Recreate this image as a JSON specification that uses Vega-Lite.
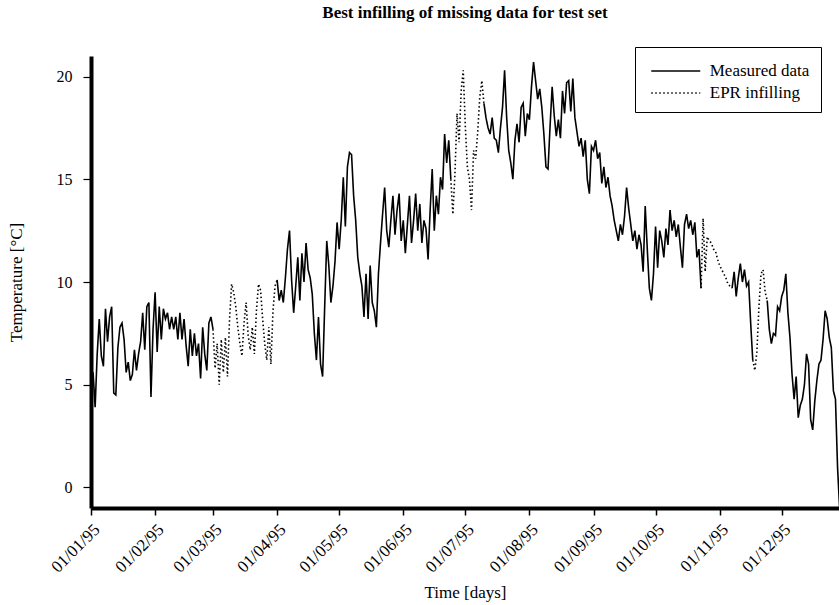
{
"$schema": "https://vega.github.io/schema/vega-lite/v6.json",
"width": 748, "height": 452,
"autosize": "none",
"padding": {"left": 91, "top": 56, "right": 0, "bottom": 97},
"background": "white",
"config": {"view": {"stroke": null}, "font": "Liberation Serif"},
"title": {"text": "Best infilling of missing data for test set", "fontSize": 17, "fontWeight": "bold", "font": "Liberation Serif", "anchor": "middle", "offset": 25, "color": "black"},
"data": {"values": [
{"d":"1995-01-01","t":5.2,"s":"Measured data","g":"a"},{"d":"1995-01-02","t":5.6,"s":"Measured data","g":"a"},{"d":"1995-01-03","t":3.9,"s":"Measured data","g":"a"},{"d":"1995-01-04","t":6.5,"s":"Measured data","g":"a"},{"d":"1995-01-05","t":8.2,"s":"Measured data","g":"a"},{"d":"1995-01-06","t":6.4,"s":"Measured data","g":"a"},{"d":"1995-01-07","t":5.9,"s":"Measured data","g":"a"},{"d":"1995-01-08","t":8.7,"s":"Measured data","g":"a"},{"d":"1995-01-09","t":7.1,"s":"Measured data","g":"a"},{"d":"1995-01-10","t":8.3,"s":"Measured data","g":"a"},
{"d":"1995-01-11","t":8.8,"s":"Measured data","g":"a"},{"d":"1995-01-12","t":4.6,"s":"Measured data","g":"a"},{"d":"1995-01-13","t":4.5,"s":"Measured data","g":"a"},{"d":"1995-01-14","t":6.8,"s":"Measured data","g":"a"},{"d":"1995-01-15","t":7.8,"s":"Measured data","g":"a"},{"d":"1995-01-16","t":8.0,"s":"Measured data","g":"a"},{"d":"1995-01-17","t":7.2,"s":"Measured data","g":"a"},{"d":"1995-01-18","t":5.6,"s":"Measured data","g":"a"},{"d":"1995-01-19","t":6.1,"s":"Measured data","g":"a"},{"d":"1995-01-20","t":5.2,"s":"Measured data","g":"a"},
{"d":"1995-01-21","t":5.5,"s":"Measured data","g":"a"},{"d":"1995-01-22","t":6.7,"s":"Measured data","g":"a"},{"d":"1995-01-23","t":5.7,"s":"Measured data","g":"a"},{"d":"1995-01-24","t":6.5,"s":"Measured data","g":"a"},{"d":"1995-01-25","t":7.1,"s":"Measured data","g":"a"},{"d":"1995-01-26","t":8.5,"s":"Measured data","g":"a"},{"d":"1995-01-27","t":6.7,"s":"Measured data","g":"a"},{"d":"1995-01-28","t":8.8,"s":"Measured data","g":"a"},{"d":"1995-01-29","t":9.0,"s":"Measured data","g":"a"},{"d":"1995-01-30","t":4.4,"s":"Measured data","g":"a"},{"d":"1995-01-31","t":7.7,"s":"Measured data","g":"a"},
{"d":"1995-02-01","t":9.5,"s":"Measured data","g":"a"},{"d":"1995-02-02","t":6.6,"s":"Measured data","g":"a"},{"d":"1995-02-03","t":8.8,"s":"Measured data","g":"a"},{"d":"1995-02-04","t":7.2,"s":"Measured data","g":"a"},{"d":"1995-02-05","t":8.7,"s":"Measured data","g":"a"},{"d":"1995-02-06","t":8.2,"s":"Measured data","g":"a"},{"d":"1995-02-07","t":8.5,"s":"Measured data","g":"a"},{"d":"1995-02-08","t":7.7,"s":"Measured data","g":"a"},{"d":"1995-02-09","t":8.3,"s":"Measured data","g":"a"},{"d":"1995-02-10","t":7.7,"s":"Measured data","g":"a"},
{"d":"1995-02-11","t":8.3,"s":"Measured data","g":"a"},{"d":"1995-02-12","t":7.2,"s":"Measured data","g":"a"},{"d":"1995-02-13","t":8.5,"s":"Measured data","g":"a"},{"d":"1995-02-14","t":7.2,"s":"Measured data","g":"a"},{"d":"1995-02-15","t":8.2,"s":"Measured data","g":"a"},{"d":"1995-02-16","t":6.9,"s":"Measured data","g":"a"},{"d":"1995-02-17","t":5.9,"s":"Measured data","g":"a"},{"d":"1995-02-18","t":7.7,"s":"Measured data","g":"a"},{"d":"1995-02-19","t":6.4,"s":"Measured data","g":"a"},{"d":"1995-02-20","t":7.5,"s":"Measured data","g":"a"},
{"d":"1995-02-21","t":6.4,"s":"Measured data","g":"a"},{"d":"1995-02-22","t":7.0,"s":"Measured data","g":"a"},{"d":"1995-02-23","t":5.3,"s":"Measured data","g":"a"},{"d":"1995-02-24","t":7.8,"s":"Measured data","g":"a"},{"d":"1995-02-25","t":6.5,"s":"Measured data","g":"a"},{"d":"1995-02-26","t":5.7,"s":"Measured data","g":"a"},{"d":"1995-02-27","t":8.0,"s":"Measured data","g":"a"},{"d":"1995-02-28","t":8.3,"s":"Measured data","g":"a"},{"d":"1995-03-01","t":7.7,"s":"Measured data","g":"a"},
{"d":"1995-03-01","t":7.7,"s":"EPR infilling","g":"b"},{"d":"1995-03-02","t":5.8,"s":"EPR infilling","g":"b"},{"d":"1995-03-03","t":7.0,"s":"EPR infilling","g":"b"},{"d":"1995-03-04","t":5.0,"s":"EPR infilling","g":"b"},{"d":"1995-03-05","t":7.2,"s":"EPR infilling","g":"b"},{"d":"1995-03-06","t":5.6,"s":"EPR infilling","g":"b"},{"d":"1995-03-07","t":7.3,"s":"EPR infilling","g":"b"},{"d":"1995-03-08","t":5.4,"s":"EPR infilling","g":"b"},{"d":"1995-03-09","t":8.2,"s":"EPR infilling","g":"b"},{"d":"1995-03-10","t":9.9,"s":"EPR infilling","g":"b"},
{"d":"1995-03-11","t":9.5,"s":"EPR infilling","g":"b"},{"d":"1995-03-12","t":8.8,"s":"EPR infilling","g":"b"},{"d":"1995-03-13","t":7.8,"s":"EPR infilling","g":"b"},{"d":"1995-03-14","t":7.0,"s":"EPR infilling","g":"b"},{"d":"1995-03-15","t":6.4,"s":"EPR infilling","g":"b"},{"d":"1995-03-16","t":8.0,"s":"EPR infilling","g":"b"},{"d":"1995-03-17","t":9.0,"s":"EPR infilling","g":"b"},{"d":"1995-03-18","t":7.4,"s":"EPR infilling","g":"b"},{"d":"1995-03-19","t":6.7,"s":"EPR infilling","g":"b"},{"d":"1995-03-20","t":7.8,"s":"EPR infilling","g":"b"},
{"d":"1995-03-21","t":6.5,"s":"EPR infilling","g":"b"},{"d":"1995-03-22","t":8.6,"s":"EPR infilling","g":"b"},{"d":"1995-03-23","t":9.9,"s":"EPR infilling","g":"b"},{"d":"1995-03-24","t":9.6,"s":"EPR infilling","g":"b"},{"d":"1995-03-25","t":8.2,"s":"EPR infilling","g":"b"},{"d":"1995-03-26","t":7.0,"s":"EPR infilling","g":"b"},{"d":"1995-03-27","t":6.2,"s":"EPR infilling","g":"b"},{"d":"1995-03-28","t":7.8,"s":"EPR infilling","g":"b"},{"d":"1995-03-29","t":6.0,"s":"EPR infilling","g":"b"},{"d":"1995-03-30","t":8.6,"s":"EPR infilling","g":"b"},{"d":"1995-03-31","t":9.8,"s":"EPR infilling","g":"b"},{"d":"1995-04-01","t":10.1,"s":"EPR infilling","g":"b"},
{"d":"1995-04-01","t":10.1,"s":"Measured data","g":"c"},{"d":"1995-04-02","t":9.1,"s":"Measured data","g":"c"},{"d":"1995-04-03","t":9.6,"s":"Measured data","g":"c"},{"d":"1995-04-04","t":9.0,"s":"Measured data","g":"c"},{"d":"1995-04-05","t":10.2,"s":"Measured data","g":"c"},{"d":"1995-04-06","t":11.6,"s":"Measured data","g":"c"},{"d":"1995-04-07","t":12.5,"s":"Measured data","g":"c"},{"d":"1995-04-08","t":10.1,"s":"Measured data","g":"c"},{"d":"1995-04-09","t":8.5,"s":"Measured data","g":"c"},{"d":"1995-04-10","t":9.8,"s":"Measured data","g":"c"},
{"d":"1995-04-11","t":11.2,"s":"Measured data","g":"c"},{"d":"1995-04-12","t":9.1,"s":"Measured data","g":"c"},{"d":"1995-04-13","t":11.4,"s":"Measured data","g":"c"},{"d":"1995-04-14","t":10.0,"s":"Measured data","g":"c"},{"d":"1995-04-15","t":11.9,"s":"Measured data","g":"c"},{"d":"1995-04-16","t":10.6,"s":"Measured data","g":"c"},{"d":"1995-04-17","t":10.2,"s":"Measured data","g":"c"},{"d":"1995-04-18","t":9.4,"s":"Measured data","g":"c"},{"d":"1995-04-19","t":7.5,"s":"Measured data","g":"c"},{"d":"1995-04-20","t":6.2,"s":"Measured data","g":"c"},
{"d":"1995-04-21","t":8.3,"s":"Measured data","g":"c"},{"d":"1995-04-22","t":6.0,"s":"Measured data","g":"c"},{"d":"1995-04-23","t":5.4,"s":"Measured data","g":"c"},{"d":"1995-04-24","t":8.8,"s":"Measured data","g":"c"},{"d":"1995-04-25","t":12.0,"s":"Measured data","g":"c"},{"d":"1995-04-26","t":10.8,"s":"Measured data","g":"c"},{"d":"1995-04-27","t":9.0,"s":"Measured data","g":"c"},{"d":"1995-04-28","t":9.8,"s":"Measured data","g":"c"},{"d":"1995-04-29","t":11.0,"s":"Measured data","g":"c"},{"d":"1995-04-30","t":12.9,"s":"Measured data","g":"c"},
{"d":"1995-05-01","t":11.6,"s":"Measured data","g":"c"},{"d":"1995-05-02","t":13.0,"s":"Measured data","g":"c"},{"d":"1995-05-03","t":15.1,"s":"Measured data","g":"c"},{"d":"1995-05-04","t":12.7,"s":"Measured data","g":"c"},{"d":"1995-05-05","t":15.6,"s":"Measured data","g":"c"},{"d":"1995-05-06","t":16.3,"s":"Measured data","g":"c"},{"d":"1995-05-07","t":16.2,"s":"Measured data","g":"c"},{"d":"1995-05-08","t":14.2,"s":"Measured data","g":"c"},{"d":"1995-05-09","t":13.0,"s":"Measured data","g":"c"},{"d":"1995-05-10","t":11.2,"s":"Measured data","g":"c"},
{"d":"1995-05-11","t":10.4,"s":"Measured data","g":"c"},{"d":"1995-05-12","t":9.8,"s":"Measured data","g":"c"},{"d":"1995-05-13","t":8.3,"s":"Measured data","g":"c"},{"d":"1995-05-14","t":10.4,"s":"Measured data","g":"c"},{"d":"1995-05-15","t":8.2,"s":"Measured data","g":"c"},{"d":"1995-05-16","t":10.8,"s":"Measured data","g":"c"},{"d":"1995-05-17","t":9.0,"s":"Measured data","g":"c"},{"d":"1995-05-18","t":8.6,"s":"Measured data","g":"c"},{"d":"1995-05-19","t":7.8,"s":"Measured data","g":"c"},{"d":"1995-05-20","t":10.4,"s":"Measured data","g":"c"},
{"d":"1995-05-21","t":11.9,"s":"Measured data","g":"c"},{"d":"1995-05-22","t":13.3,"s":"Measured data","g":"c"},{"d":"1995-05-23","t":14.6,"s":"Measured data","g":"c"},{"d":"1995-05-24","t":12.5,"s":"Measured data","g":"c"},{"d":"1995-05-25","t":11.7,"s":"Measured data","g":"c"},{"d":"1995-05-26","t":13.0,"s":"Measured data","g":"c"},{"d":"1995-05-27","t":14.2,"s":"Measured data","g":"c"},{"d":"1995-05-28","t":12.3,"s":"Measured data","g":"c"},{"d":"1995-05-29","t":13.5,"s":"Measured data","g":"c"},{"d":"1995-05-30","t":14.3,"s":"Measured data","g":"c"},{"d":"1995-05-31","t":12.0,"s":"Measured data","g":"c"},
{"d":"1995-06-01","t":13.0,"s":"Measured data","g":"c"},{"d":"1995-06-02","t":11.4,"s":"Measured data","g":"c"},{"d":"1995-06-03","t":12.8,"s":"Measured data","g":"c"},{"d":"1995-06-04","t":14.2,"s":"Measured data","g":"c"},{"d":"1995-06-05","t":11.9,"s":"Measured data","g":"c"},{"d":"1995-06-06","t":13.0,"s":"Measured data","g":"c"},{"d":"1995-06-07","t":14.3,"s":"Measured data","g":"c"},{"d":"1995-06-08","t":12.5,"s":"Measured data","g":"c"},{"d":"1995-06-09","t":13.8,"s":"Measured data","g":"c"},{"d":"1995-06-10","t":11.9,"s":"Measured data","g":"c"},
{"d":"1995-06-11","t":13.0,"s":"Measured data","g":"c"},{"d":"1995-06-12","t":12.6,"s":"Measured data","g":"c"},{"d":"1995-06-13","t":11.1,"s":"Measured data","g":"c"},{"d":"1995-06-14","t":13.5,"s":"Measured data","g":"c"},{"d":"1995-06-15","t":15.5,"s":"Measured data","g":"c"},{"d":"1995-06-16","t":12.5,"s":"Measured data","g":"c"},{"d":"1995-06-17","t":14.2,"s":"Measured data","g":"c"},{"d":"1995-06-18","t":13.3,"s":"Measured data","g":"c"},{"d":"1995-06-19","t":15.1,"s":"Measured data","g":"c"},{"d":"1995-06-20","t":14.5,"s":"Measured data","g":"c"},
{"d":"1995-06-21","t":17.2,"s":"Measured data","g":"c"},{"d":"1995-06-22","t":15.8,"s":"Measured data","g":"c"},{"d":"1995-06-23","t":16.9,"s":"Measured data","g":"c"},{"d":"1995-06-24","t":15.0,"s":"Measured data","g":"c"},
{"d":"1995-06-24","t":15.0,"s":"EPR infilling","g":"d"},{"d":"1995-06-25","t":13.3,"s":"EPR infilling","g":"d"},{"d":"1995-06-26","t":15.3,"s":"EPR infilling","g":"d"},{"d":"1995-06-27","t":18.2,"s":"EPR infilling","g":"d"},{"d":"1995-06-28","t":16.8,"s":"EPR infilling","g":"d"},{"d":"1995-06-29","t":19.3,"s":"EPR infilling","g":"d"},{"d":"1995-06-30","t":20.3,"s":"EPR infilling","g":"d"},{"d":"1995-07-01","t":17.6,"s":"EPR infilling","g":"d"},{"d":"1995-07-02","t":15.6,"s":"EPR infilling","g":"d"},{"d":"1995-07-03","t":15.0,"s":"EPR infilling","g":"d"},
{"d":"1995-07-04","t":13.5,"s":"EPR infilling","g":"d"},{"d":"1995-07-05","t":16.4,"s":"EPR infilling","g":"d"},{"d":"1995-07-06","t":16.0,"s":"EPR infilling","g":"d"},{"d":"1995-07-07","t":17.3,"s":"EPR infilling","g":"d"},{"d":"1995-07-08","t":19.0,"s":"EPR infilling","g":"d"},{"d":"1995-07-09","t":19.8,"s":"EPR infilling","g":"d"},{"d":"1995-07-10","t":18.7,"s":"EPR infilling","g":"d"},
{"d":"1995-07-10","t":18.7,"s":"Measured data","g":"e"},{"d":"1995-07-11","t":18.0,"s":"Measured data","g":"e"},{"d":"1995-07-12","t":17.5,"s":"Measured data","g":"e"},{"d":"1995-07-13","t":17.2,"s":"Measured data","g":"e"},{"d":"1995-07-14","t":18.0,"s":"Measured data","g":"e"},{"d":"1995-07-15","t":17.0,"s":"Measured data","g":"e"},{"d":"1995-07-16","t":16.9,"s":"Measured data","g":"e"},{"d":"1995-07-17","t":16.3,"s":"Measured data","g":"e"},{"d":"1995-07-18","t":17.5,"s":"Measured data","g":"e"},{"d":"1995-07-19","t":18.5,"s":"Measured data","g":"e"},
{"d":"1995-07-20","t":20.3,"s":"Measured data","g":"e"},{"d":"1995-07-21","t":18.0,"s":"Measured data","g":"e"},{"d":"1995-07-22","t":16.4,"s":"Measured data","g":"e"},{"d":"1995-07-23","t":15.8,"s":"Measured data","g":"e"},{"d":"1995-07-24","t":15.0,"s":"Measured data","g":"e"},{"d":"1995-07-25","t":16.9,"s":"Measured data","g":"e"},{"d":"1995-07-26","t":17.7,"s":"Measured data","g":"e"},{"d":"1995-07-27","t":16.8,"s":"Measured data","g":"e"},{"d":"1995-07-28","t":18.5,"s":"Measured data","g":"e"},{"d":"1995-07-29","t":18.7,"s":"Measured data","g":"e"},
{"d":"1995-07-30","t":17.1,"s":"Measured data","g":"e"},{"d":"1995-07-31","t":18.2,"s":"Measured data","g":"e"},
{"d":"1995-08-01","t":17.9,"s":"Measured data","g":"e"},{"d":"1995-08-02","t":19.5,"s":"Measured data","g":"e"},{"d":"1995-08-03","t":20.7,"s":"Measured data","g":"e"},{"d":"1995-08-04","t":19.8,"s":"Measured data","g":"e"},{"d":"1995-08-05","t":18.9,"s":"Measured data","g":"e"},{"d":"1995-08-06","t":19.4,"s":"Measured data","g":"e"},{"d":"1995-08-07","t":18.5,"s":"Measured data","g":"e"},{"d":"1995-08-08","t":17.2,"s":"Measured data","g":"e"},{"d":"1995-08-09","t":15.6,"s":"Measured data","g":"e"},{"d":"1995-08-10","t":15.5,"s":"Measured data","g":"e"},
{"d":"1995-08-11","t":17.6,"s":"Measured data","g":"e"},{"d":"1995-08-12","t":19.5,"s":"Measured data","g":"e"},{"d":"1995-08-13","t":18.1,"s":"Measured data","g":"e"},{"d":"1995-08-14","t":17.1,"s":"Measured data","g":"e"},{"d":"1995-08-15","t":17.9,"s":"Measured data","g":"e"},{"d":"1995-08-16","t":17.0,"s":"Measured data","g":"e"},{"d":"1995-08-17","t":19.3,"s":"Measured data","g":"e"},{"d":"1995-08-18","t":18.2,"s":"Measured data","g":"e"},{"d":"1995-08-19","t":19.7,"s":"Measured data","g":"e"},{"d":"1995-08-20","t":19.8,"s":"Measured data","g":"e"},
{"d":"1995-08-21","t":18.3,"s":"Measured data","g":"e"},{"d":"1995-08-22","t":19.9,"s":"Measured data","g":"e"},{"d":"1995-08-23","t":18.0,"s":"Measured data","g":"e"},{"d":"1995-08-24","t":17.3,"s":"Measured data","g":"e"},{"d":"1995-08-25","t":16.6,"s":"Measured data","g":"e"},{"d":"1995-08-26","t":17.0,"s":"Measured data","g":"e"},{"d":"1995-08-27","t":16.1,"s":"Measured data","g":"e"},{"d":"1995-08-28","t":16.9,"s":"Measured data","g":"e"},{"d":"1995-08-29","t":15.0,"s":"Measured data","g":"e"},{"d":"1995-08-30","t":14.3,"s":"Measured data","g":"e"},{"d":"1995-08-31","t":16.6,"s":"Measured data","g":"e"},
{"d":"1995-09-01","t":16.4,"s":"Measured data","g":"e"},{"d":"1995-09-02","t":16.9,"s":"Measured data","g":"e"},{"d":"1995-09-03","t":16.0,"s":"Measured data","g":"e"},{"d":"1995-09-04","t":16.3,"s":"Measured data","g":"e"},{"d":"1995-09-05","t":14.8,"s":"Measured data","g":"e"},{"d":"1995-09-06","t":15.6,"s":"Measured data","g":"e"},{"d":"1995-09-07","t":14.6,"s":"Measured data","g":"e"},{"d":"1995-09-08","t":15.1,"s":"Measured data","g":"e"},{"d":"1995-09-09","t":14.2,"s":"Measured data","g":"e"},{"d":"1995-09-10","t":13.7,"s":"Measured data","g":"e"},
{"d":"1995-09-11","t":13.0,"s":"Measured data","g":"e"},{"d":"1995-09-12","t":12.5,"s":"Measured data","g":"e"},{"d":"1995-09-13","t":12.0,"s":"Measured data","g":"e"},{"d":"1995-09-14","t":12.8,"s":"Measured data","g":"e"},{"d":"1995-09-15","t":12.3,"s":"Measured data","g":"e"},{"d":"1995-09-16","t":13.2,"s":"Measured data","g":"e"},{"d":"1995-09-17","t":14.6,"s":"Measured data","g":"e"},{"d":"1995-09-18","t":13.6,"s":"Measured data","g":"e"},{"d":"1995-09-19","t":12.8,"s":"Measured data","g":"e"},{"d":"1995-09-20","t":12.0,"s":"Measured data","g":"e"},
{"d":"1995-09-21","t":12.5,"s":"Measured data","g":"e"},{"d":"1995-09-22","t":11.6,"s":"Measured data","g":"e"},{"d":"1995-09-23","t":12.3,"s":"Measured data","g":"e"},{"d":"1995-09-24","t":11.8,"s":"Measured data","g":"e"},{"d":"1995-09-25","t":10.5,"s":"Measured data","g":"e"},{"d":"1995-09-26","t":13.7,"s":"Measured data","g":"e"},{"d":"1995-09-27","t":11.6,"s":"Measured data","g":"e"},{"d":"1995-09-28","t":9.7,"s":"Measured data","g":"e"},{"d":"1995-09-29","t":9.1,"s":"Measured data","g":"e"},{"d":"1995-09-30","t":10.4,"s":"Measured data","g":"e"},
{"d":"1995-10-01","t":12.7,"s":"Measured data","g":"e"},{"d":"1995-10-02","t":10.7,"s":"Measured data","g":"e"},{"d":"1995-10-03","t":12.5,"s":"Measured data","g":"e"},{"d":"1995-10-04","t":12.0,"s":"Measured data","g":"e"},{"d":"1995-10-05","t":11.2,"s":"Measured data","g":"e"},{"d":"1995-10-06","t":12.6,"s":"Measured data","g":"e"},{"d":"1995-10-07","t":11.8,"s":"Measured data","g":"e"},{"d":"1995-10-08","t":13.5,"s":"Measured data","g":"e"},{"d":"1995-10-09","t":12.5,"s":"Measured data","g":"e"},{"d":"1995-10-10","t":13.0,"s":"Measured data","g":"e"},
{"d":"1995-10-11","t":12.2,"s":"Measured data","g":"e"},{"d":"1995-10-12","t":12.8,"s":"Measured data","g":"e"},{"d":"1995-10-13","t":11.7,"s":"Measured data","g":"e"},{"d":"1995-10-14","t":10.7,"s":"Measured data","g":"e"},{"d":"1995-10-15","t":12.8,"s":"Measured data","g":"e"},{"d":"1995-10-16","t":13.3,"s":"Measured data","g":"e"},{"d":"1995-10-17","t":12.6,"s":"Measured data","g":"e"},{"d":"1995-10-18","t":13.0,"s":"Measured data","g":"e"},{"d":"1995-10-19","t":12.3,"s":"Measured data","g":"e"},{"d":"1995-10-20","t":12.9,"s":"Measured data","g":"e"},
{"d":"1995-10-21","t":11.2,"s":"Measured data","g":"e"},{"d":"1995-10-22","t":11.6,"s":"Measured data","g":"e"},{"d":"1995-10-23","t":9.7,"s":"Measured data","g":"e"},
{"d":"1995-10-23","t":9.7,"s":"EPR infilling","g":"f"},{"d":"1995-10-24","t":13.1,"s":"EPR infilling","g":"f"},{"d":"1995-10-25","t":10.5,"s":"EPR infilling","g":"f"},{"d":"1995-10-26","t":12.2,"s":"EPR infilling","g":"f"},{"d":"1995-10-27","t":12.0,"s":"EPR infilling","g":"f"},{"d":"1995-10-28","t":11.9,"s":"EPR infilling","g":"f"},{"d":"1995-10-29","t":11.6,"s":"EPR infilling","g":"f"},{"d":"1995-10-30","t":11.5,"s":"EPR infilling","g":"f"},{"d":"1995-10-31","t":11.1,"s":"EPR infilling","g":"f"},
{"d":"1995-11-01","t":10.8,"s":"EPR infilling","g":"f"},{"d":"1995-11-02","t":10.6,"s":"EPR infilling","g":"f"},{"d":"1995-11-03","t":10.4,"s":"EPR infilling","g":"f"},{"d":"1995-11-04","t":10.2,"s":"EPR infilling","g":"f"},{"d":"1995-11-05","t":9.9,"s":"EPR infilling","g":"f"},{"d":"1995-11-06","t":9.8,"s":"EPR infilling","g":"f"},{"d":"1995-11-07","t":9.7,"s":"EPR infilling","g":"f"},
{"d":"1995-11-07","t":9.7,"s":"Measured data","g":"g"},{"d":"1995-11-08","t":10.5,"s":"Measured data","g":"g"},{"d":"1995-11-09","t":9.3,"s":"Measured data","g":"g"},{"d":"1995-11-10","t":10.2,"s":"Measured data","g":"g"},{"d":"1995-11-11","t":10.9,"s":"Measured data","g":"g"},{"d":"1995-11-12","t":10.0,"s":"Measured data","g":"g"},{"d":"1995-11-13","t":10.6,"s":"Measured data","g":"g"},{"d":"1995-11-14","t":9.8,"s":"Measured data","g":"g"},{"d":"1995-11-15","t":10.0,"s":"Measured data","g":"g"},{"d":"1995-11-16","t":8.0,"s":"Measured data","g":"g"},{"d":"1995-11-17","t":6.2,"s":"Measured data","g":"g"},
{"d":"1995-11-17","t":6.2,"s":"EPR infilling","g":"h"},{"d":"1995-11-18","t":5.7,"s":"EPR infilling","g":"h"},{"d":"1995-11-19","t":6.6,"s":"EPR infilling","g":"h"},{"d":"1995-11-20","t":8.8,"s":"EPR infilling","g":"h"},{"d":"1995-11-21","t":10.4,"s":"EPR infilling","g":"h"},{"d":"1995-11-22","t":10.6,"s":"EPR infilling","g":"h"},{"d":"1995-11-23","t":9.5,"s":"EPR infilling","g":"h"},{"d":"1995-11-24","t":9.1,"s":"EPR infilling","g":"h"},
{"d":"1995-11-24","t":9.1,"s":"Measured data","g":"i"},{"d":"1995-11-25","t":7.7,"s":"Measured data","g":"i"},{"d":"1995-11-26","t":7.0,"s":"Measured data","g":"i"},{"d":"1995-11-27","t":7.5,"s":"Measured data","g":"i"},{"d":"1995-11-28","t":7.4,"s":"Measured data","g":"i"},{"d":"1995-11-29","t":8.8,"s":"Measured data","g":"i"},{"d":"1995-11-30","t":8.6,"s":"Measured data","g":"i"},
{"d":"1995-12-01","t":9.3,"s":"Measured data","g":"i"},{"d":"1995-12-02","t":9.6,"s":"Measured data","g":"i"},{"d":"1995-12-03","t":10.4,"s":"Measured data","g":"i"},{"d":"1995-12-04","t":8.5,"s":"Measured data","g":"i"},{"d":"1995-12-05","t":7.3,"s":"Measured data","g":"i"},{"d":"1995-12-06","t":5.5,"s":"Measured data","g":"i"},{"d":"1995-12-07","t":4.3,"s":"Measured data","g":"i"},{"d":"1995-12-08","t":5.4,"s":"Measured data","g":"i"},{"d":"1995-12-09","t":3.4,"s":"Measured data","g":"i"},{"d":"1995-12-10","t":4.0,"s":"Measured data","g":"i"},
{"d":"1995-12-11","t":4.3,"s":"Measured data","g":"i"},{"d":"1995-12-12","t":5.0,"s":"Measured data","g":"i"},{"d":"1995-12-13","t":6.5,"s":"Measured data","g":"i"},{"d":"1995-12-14","t":6.0,"s":"Measured data","g":"i"},{"d":"1995-12-15","t":3.3,"s":"Measured data","g":"i"},{"d":"1995-12-16","t":2.8,"s":"Measured data","g":"i"},{"d":"1995-12-17","t":4.2,"s":"Measured data","g":"i"},{"d":"1995-12-18","t":5.2,"s":"Measured data","g":"i"},{"d":"1995-12-19","t":6.0,"s":"Measured data","g":"i"},{"d":"1995-12-20","t":6.2,"s":"Measured data","g":"i"},
{"d":"1995-12-21","t":7.2,"s":"Measured data","g":"i"},{"d":"1995-12-22","t":8.6,"s":"Measured data","g":"i"},{"d":"1995-12-23","t":8.2,"s":"Measured data","g":"i"},{"d":"1995-12-24","t":7.3,"s":"Measured data","g":"i"},{"d":"1995-12-25","t":6.8,"s":"Measured data","g":"i"},{"d":"1995-12-26","t":4.7,"s":"Measured data","g":"i"},{"d":"1995-12-27","t":4.3,"s":"Measured data","g":"i"},{"d":"1995-12-28","t":1.0,"s":"Measured data","g":"i"},{"d":"1995-12-29","t":-1.0,"s":"Measured data","g":"i"}
]},
"mark": {"type": "line", "clip": true, "strokeWidth": 1.6, "color": "black"},
"encoding": {
  "x": {"field": "d", "type": "temporal",
    "scale": {"type": "utc", "domain": [{"year": 1995, "month": 1, "date": 1, "utc": true}, {"year": 1995, "month": 12, "date": 28, "hours": 17, "utc": true}]},
    "axis": {"values": [{"year":1995,"month":1,"date":1,"utc":true},{"year":1995,"month":2,"date":1,"utc":true},{"year":1995,"month":3,"date":1,"utc":true},{"year":1995,"month":4,"date":1,"utc":true},{"year":1995,"month":5,"date":1,"utc":true},{"year":1995,"month":6,"date":1,"utc":true},{"year":1995,"month":7,"date":1,"utc":true},{"year":1995,"month":8,"date":1,"utc":true},{"year":1995,"month":9,"date":1,"utc":true},{"year":1995,"month":10,"date":1,"utc":true},{"year":1995,"month":11,"date":1,"utc":true},{"year":1995,"month":12,"date":1,"utc":true}],
      "labelExpr": "utcFormat(datum.value, '%d/%m/%y')", "labelAngle": -45, "labelAlign": "right", "labelBaseline": "top", "labelFont": "Liberation Serif", "labelFontSize": 17, "labelColor": "black", "labelFlush": false, "labelOverlap": false,
      "tickSize": 7, "tickColor": "black", "tickWidth": 1.5, "labelPadding": 6, "grid": false,
      "domainColor": "black", "domainWidth": 4,
      "title": "Time [days]", "titleFont": "Liberation Serif", "titleFontSize": 17, "titleFontWeight": "normal", "titleColor": "black", "titleY": 89, "titleBaseline": "alphabetic"}},
  "y": {"field": "t", "type": "quantitative",
    "scale": {"domain": [-1, 21], "nice": false, "zero": false},
    "axis": {"values": [0, 5, 10, 15, 20], "labelFont": "Liberation Serif", "labelFontSize": 16, "labelColor": "black", "labelPadding": 11,
      "tickSize": 8, "tickColor": "black", "tickWidth": 1.2, "grid": false,
      "domainColor": "black", "domainWidth": 4,
      "title": "Temperature [°C]", "titleFont": "Liberation Serif", "titleFontSize": 17, "titleFontWeight": "normal", "titleColor": "black",
      "titleX": -66, "titleY": 226, "titleAngle": -90, "titleBaseline": "bottom", "titleAlign": "center"}},
  "strokeDash": {"field": "s", "type": "nominal",
    "scale": {"domain": ["Measured data", "EPR infilling"], "range": [[1, 0], [1.5, 2.5]]},
    "legend": {"title": null, "orient": "none", "legendX": 544, "legendY": -9, "strokeColor": "black", "fillColor": "white", "padding": 11,
      "symbolType": "M-2,0H2", "symbolSize": 600, "symbolOffset": 16.75, "symbolStrokeColor": "black", "symbolStrokeWidth": 1.3,
      "labelFont": "Liberation Serif", "labelFontSize": 17, "labelColor": "black", "labelOffset": 21, "rowPadding": 1}},
  "detail": {"field": "g"}
}
}
